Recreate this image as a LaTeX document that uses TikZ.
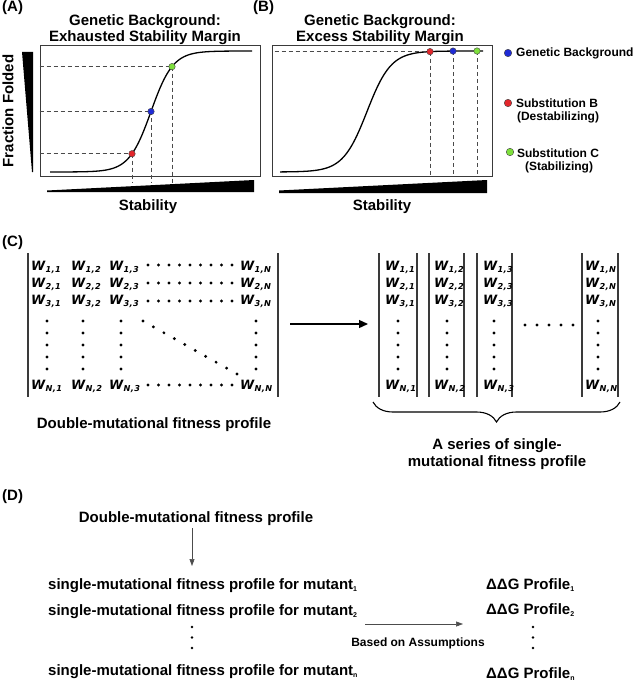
\documentclass[tikz,border=0pt]{standalone}
\usepackage{fontspec}
\setmainfont{Liberation Sans}
\newfontfamily\wfont{DejaVu Sans}
\usetikzlibrary{arrows.meta,decorations.pathreplacing}
\definecolor{dotred}{HTML}{E3262B}
\definecolor{dotblue}{HTML}{1F2BD6}
\definecolor{dotgreen}{HTML}{7EE03C}
\definecolor{framegray}{HTML}{3A3A3A}
\definecolor{dashgray}{HTML}{4A4A4A}
\newcommand{\fsz}[1]{\fontsize{#1}{#1}\selectfont}
\newcommand{\Wc}[2]{{\wfont\bfseries\itshape\fsz{12.8}W\raisebox{-2.8pt}{\fsz{8.2}\kern0.3pt #1\kern0.4pt,\kern0.4pt #2}}}
\newcommand{\ssub}[1]{\raisebox{-2pt}{\fsz{7}#1}}
\begin{document}
\begin{tikzpicture}[x=1pt,y=-1pt,
  lbl/.style={font=\bfseries\fsz{15}, inner sep=0, anchor=base},
  leg/.style={font=\bfseries\fsz{12}, inner sep=0, anchor=base},
  pbox/.style={draw=framegray, line width=1pt, minimum width=220pt, minimum height=130pt, inner sep=0},
  dsh/.style={draw=dashgray, line width=0.7pt, dash pattern=on 4pt off 3pt},
  curve/.style={line width=1.3pt, black},
  pt/.style={circle, draw=black!75, line width=0.4pt, minimum size=6.5pt, inner sep=0},
  lpt/.style={circle, draw=black!75, line width=0.4pt, minimum size=7.5pt, inner sep=0},
  went/.style={anchor=base west, inner sep=0},
  bar/.style={draw=framegray, line width=1.1pt},
  thinarrow/.style={draw=black!70, line width=0.6pt, -{Triangle[length=7pt,width=5pt]}}
]
\useasboundingbox (0,0) rectangle (633,682);

% ---------- Panel labels ----------
\node[lbl, anchor=base west] (labA) at (2,12) {(A)};
\node[lbl, anchor=base west] (labB) at (253,12) {(B)};
\node[lbl, anchor=base west] (labC) at (2,246) {(C)};
\node[lbl, anchor=base west] (labD) at (2,500) {(D)};

% ---------- Panel A ----------
\node[lbl] (titA1) at (145,26) {Genetic Background:};
\node[lbl] (titA2) at (145,42) {Exhausted Stability Margin};
\node[pbox] (boxA) at (150,111) {};
\draw[curve] plot[domain=50:252, samples=120, smooth] (\x,{172-121/(1+exp(-(\x-151)/11))});
\path (132,{172-121/(1+exp(-(132-151)/11))}) coordinate (cR);
\path (151,{172-121/(1+exp(-(151-151)/11))}) coordinate (cB);
\path (172,{172-121/(1+exp(-(172-151)/11))}) coordinate (cG);
\draw[dsh] (boxA.west |- cR) -- (cR);
\draw[dsh] (boxA.west |- cB) -- (cB);
\draw[dsh] (boxA.west |- cG) -- (cG);
\draw[dsh] (cR) -- ([yshift=-6pt]cR |- boxA.south);
\draw[dsh] (cB) -- ([yshift=-6pt]cB |- boxA.south);
\draw[dsh] (cG) -- ([yshift=-6pt]cG |- boxA.south);
\node[pt, fill=dotred] (redA) at (cR) {};
\node[pt, fill=dotblue] (blueA) at (cB) {};
\node[pt, fill=dotgreen] (greenA) at (cG) {};
\fill (22,52) -- (33,52) -- (33,172) -- (32,172) -- cycle;
\node[lbl, rotate=90, anchor=center] (ff) at (8,111) {Fraction Folded};
\fill (47,190.5) -- (254,180) -- (254,192) -- (47,192) -- cycle;
\node[lbl] (stabA) at (148,210) {Stability};

% ---------- Panel B ----------
\node[lbl] (titB1) at (380,26) {Genetic Background:};
\node[lbl] (titB2) at (380,42) {Excess Stability Margin};
\node[pbox] (boxB) at (382,111) {};
\draw[curve] plot[domain=280:483, samples=120, smooth] (\x,{172-121/(1+exp(-(\x-367)/12))});
\path (430,{172-121/(1+exp(-(430-367)/12))}) coordinate (dR);
\path (453,{172-121/(1+exp(-(453-367)/12))}) coordinate (dB);
\path (477,{172-121/(1+exp(-(477-367)/12))}) coordinate (dG);
\draw[dsh] ([xshift=3pt]boxB.west |- dR) -- (dR);
\draw[dsh] (dR) -- ([yshift=2pt]dR |- boxB.south);
\draw[dsh] (dB) -- ([yshift=2pt]dB |- boxB.south);
\draw[dsh] (dG) -- ([yshift=2pt]dG |- boxB.south);
\node[pt, fill=dotred] (redB) at (dR) {};
\node[pt, fill=dotblue] (blueB) at (dB) {};
\node[pt, fill=dotgreen] (greenB) at (dG) {};
\fill (279,190.5) -- (487,180) -- (487,193) -- (279,193) -- cycle;
\node[lbl] (stabB) at (382,210) {Stability};

% ---------- Legend ----------
\node[lpt, fill=dotblue] (legBlue) at (508,53) {};
\node[leg, anchor=base west] (legBlueT) at (516,57) {Genetic Background};
\node[lpt, fill=dotred] (legRed) at (508,103) {};
\node[leg] (legRedT1) at (557,107) {Substitution B};
\node[leg] (legRedT2) at (558,121) {(Destabilizing)};
\node[lpt, fill=dotgreen] (legGreen) at (510,152) {};
\node[leg] (legGreenT1) at (558,157) {Substitution C};
\node[leg] (legGreenT2) at (559,170) {(Stabilizing)};

% ---------- Panel C: double matrix ----------
\draw[bar] (28,253) -- (28,397);
\draw[bar] (278,253) -- (278,397);
\foreach \c/\xx in {1/31,2/71,3/109,N/240}{
  \foreach \r/\yy in {1/270,2/287,3/304,N/389}{
    \node[went] (L\r\c) at (\xx,\yy) {\Wc{\r}{\c}};
  }
}
\foreach \xx in {47,83,121,256}{
  \foreach \yy in {321,333,345,357,369}{
    \fill (\xx,\yy) circle (1.6pt);
  }
}
\foreach \yy in {265,283,301,385}{
  \foreach \i in {0,...,8}{
    \fill ({148+\i*10.5},\yy) circle (1.6pt);
  }
}
\foreach \i in {0,...,9}{
  \fill ({143+\i*94/9},{321+\i*53/9}) circle (1.6pt);
}
\node[lbl] (dmfp) at (154,428) {Double-mutational fitness profile};

% arrow
\coordinate (arC1) at (290,324);
\coordinate (arC2) at (368,324);
\draw[line width=1.3pt, -{Triangle[length=9pt,width=8pt]}] (arC1) -- (arC2);

% ---------- Panel C: single vectors ----------
\foreach \la/\ra in {379/417,429/464,477/512,582/618}{
  \draw[bar] (\la,253) -- (\la,397);
  \draw[bar] (\ra,253) -- (\ra,397);
}
\foreach \c/\xx in {1/385,2/434,3/483,N/585}{
  \foreach \r/\yy in {1/270,2/287,3/304,N/389}{
    \node[went] (R\r\c) at (\xx,\yy) {\Wc{\r}{\c}};
  }
}
\foreach \xx in {398,447,494,598}{
  \foreach \yy in {321,333,345,357,369}{
    \fill (\xx,\yy) circle (1.6pt);
  }
}
\foreach \i in {0,...,4}{
  \fill ({525+\i*12},325) circle (1.6pt);
}
\coordinate (brR) at (620,402);
\coordinate (brL) at (373,402);
\draw[line width=1.1pt, decorate, decoration={brace, amplitude=20pt}] (brR) -- (brL);
\node[lbl] (ser1) at (497,449) {A series of single-};
\node[lbl] (ser2) at (497,466) {mutational fitness profile};

% ---------- Panel D ----------
\node[lbl] (dd) at (196,522) {Double-mutational fitness profile};
\node[lbl, anchor=base west] (s1) at (48,589) {single-mutational fitness profile for mutant\ssub{1}};
\node[lbl, anchor=base west] (s2) at (48,615) {single-mutational fitness profile for mutant\ssub{2}};
\node[lbl, anchor=base west] (sn) at (48,675) {single-mutational fitness profile for mutant\ssub{n}};
\foreach \yy in {627,637.5,648}{
  \fill (192,\yy) circle (1.4pt);
}
\coordinate (vA1) at (192,528);
\coordinate (vA2) at (192,566);
\draw[thinarrow] (vA1) -- (vA2);

\node[lbl, anchor=base west] (g1) at (486,589) {ΔΔG Profile\ssub{1}};
\node[lbl, anchor=base west] (g2) at (486,614) {ΔΔG Profile\ssub{2}};
\node[lbl, anchor=base west] (gn) at (486,678) {ΔΔG Profile\ssub{n}};
\foreach \yy in {627,637.5,648}{
  \fill (533,\yy) circle (1.4pt);
}
\coordinate (hA1) at (365,624);
\coordinate (hA2) at (463,624);
\draw[thinarrow] (hA1) -- (hA2);
\node[leg] (bas) at (418,646) {Based on Assumptions};
\end{tikzpicture}
\end{document}
